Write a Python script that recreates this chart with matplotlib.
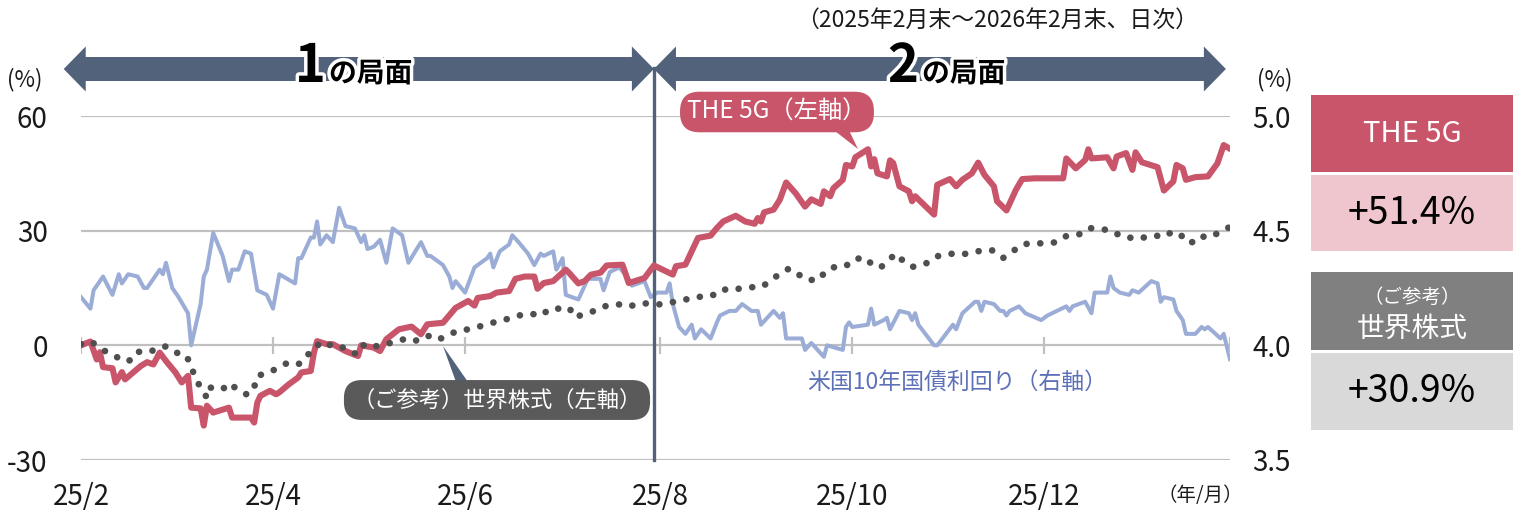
import matplotlib
matplotlib.use('Agg')
import matplotlib.pyplot as plt
import matplotlib.patheffects as pe
import matplotlib.transforms as mtrans
from matplotlib.patches import Rectangle, Polygon
import pandas as pd

plt.rcParams['font.family'] = ['Noto Sans CJK JP', 'DejaVu Sans']

# days since 2025-02-28 (end of Feb 2025)
start = pd.Timestamp('2025-02-28')
end = pd.Timestamp('2026-02-28')
phase_split = pd.Timestamp('2025-08-29')

tick_dates = ['2025-02-28', '2025-04-30', '2025-06-30', '2025-08-31', '2025-10-31', '2025-12-31']
tick_labels = ['25/2', '25/4', '25/6', '25/8', '25/10', '25/12']

# THE 5G cumulative return (%), left axis
the5g_days = [0, 3, 5, 6, 7, 10, 11, 13, 14, 19, 21, 23, 25, 27, 30, 32, 34, 35, 38, 39, 40, 42, 47, 48,
              54, 55, 56, 57, 60, 62, 63, 66, 69, 70, 73, 74, 75, 78, 80, 82, 84, 88, 89, 93, 95, 97,
              101, 105, 108, 110, 115, 119, 123, 125, 126, 130, 132, 136, 138, 141, 144, 145, 147, 150,
              154, 155, 158, 160, 162, 165, 167, 172, 174, 179, 182, 188, 189, 192, 194, 196, 200, 202,
              204, 208, 211, 214, 215, 216, 217, 220, 222, 224, 227, 230, 232, 235, 236, 238, 239, 242,
              243, 245, 246, 250, 251, 252, 253, 256, 257, 258, 260, 263, 264, 265, 271, 272, 276, 278,
              280, 283, 285, 287, 290, 291, 294, 297, 299, 303, 312, 313, 316, 319, 320, 321, 326, 328,
              329, 332, 334, 335, 337, 342, 344, 347, 348, 350, 351, 354, 358, 361, 363, 365]
the5g_vals = [0.0, 1.0, -3.7, -1.8, -5.7, -6.0, -9.7, -7.0, -8.9, -5.4, -4.4, -5.0, -1.9, -4.1, -7.1, -9.7,
              -8.0, -16.3, -16.5, -21.0, -15.8, -17.6, -16.3, -18.9, -18.9, -20.2, -15.0, -13.2, -11.9,
              -12.8, -12.3, -10.2, -8.4, -7.1, -6.7, -1.9, 1.1, 0.3, 0.3, -0.6, -1.5, -2.8, 0.0, -0.6,
              -1.5, 1.6, 4.2, 4.9, 2.9, 5.5, 5.9, 9.8, 11.6, 10.4, 12.4, 12.9, 13.8, 14.2, 17.4, 18.0,
              18.0, 14.8, 16.3, 16.8, 19.8, 19.0, 16.2, 16.8, 18.5, 19.0, 20.9, 21.1, 16.3, 17.6, 20.9,
              18.5, 20.7, 21.1, 24.6, 28.1, 28.7, 30.7, 32.4, 33.9, 32.4, 31.8, 33.3, 32.4, 34.8, 35.5,
              38.1, 42.6, 39.8, 36.3, 38.2, 37.0, 40.3, 39.0, 41.1, 43.3, 47.2, 46.8, 49.2, 51.3, 46.8,
              48.7, 45.0, 44.2, 48.4, 47.7, 41.6, 40.3, 37.7, 39.0, 34.2, 42.0, 43.5, 41.6, 43.3, 45.0,
              47.8, 44.6, 41.6, 37.7, 35.3, 40.7, 43.5, 43.7, 43.7, 48.9, 46.3, 48.5, 51.3, 48.9, 49.2,
              46.3, 49.4, 50.3, 45.9, 50.5, 47.9, 46.6, 40.5, 42.9, 47.2, 46.3, 43.3, 44.0, 44.2, 47.6,
              52.4, 51.4]

# world equities (reference), left axis
world_days = [0, 3, 6, 8, 11, 13, 16, 18, 22, 25, 27, 30, 33, 35, 36, 38, 40, 41, 42, 45, 47, 50, 53, 55,
              56, 60, 63, 65, 69, 71, 74, 76, 79, 82, 85, 88, 90, 93, 96, 99, 103, 106, 110, 113, 116,
              119, 123, 126, 129, 132, 136, 139, 143, 146, 149, 152, 155, 157, 160, 164, 167, 171, 174,
              177, 181, 184, 188, 192, 195, 199, 202, 205, 209, 212, 216, 219, 222, 225, 228, 231, 235,
              236, 239, 243, 245, 249, 251, 254, 256, 259, 261, 264, 266, 269, 272, 276, 279, 283, 287,
              290, 293, 296, 299, 303, 306, 310, 313, 317, 320, 323, 327, 329, 331, 334, 337, 341, 344,
              346, 349, 351, 355, 357, 360, 363, 365]
world_vals = [0.3, 1.1, -0.6, -1.7, -2.8, -4.1, -3.9, -1.7, -1.7, -0.4, -0.3, -1.9, -2.3, -5.0, -8.2,
              -11.0, -13.7, -11.0, -11.3, -11.5, -9.9, -11.7, -13.0, -11.0, -8.0, -7.0, -5.7, -4.8, -5.1,
              -2.9, -1.5, 0.9, 0.1, 0.1, -1.7, -2.3, 0.3, -0.4, 0.3, 0.7, 1.7, 1.1, 2.6, 1.4, 2.3, 3.6,
              4.2, 4.8, 5.5, 6.2, 7.0, 7.8, 8.3, 7.7, 9.6, 9.6, 9.9, 7.3, 8.3, 9.2, 10.4, 10.7, 10.1,
              10.9, 11.0, 10.7, 11.3, 12.0, 12.3, 13.3, 13.1, 14.8, 14.8, 15.2, 15.2, 16.8, 18.8, 20.1,
              18.5, 17.0, 17.4, 19.0, 20.4, 20.7, 22.4, 23.0, 21.4, 20.3, 22.0, 24.0, 22.2, 20.5, 20.9,
              21.6, 23.3, 24.0, 23.7, 24.2, 25.0, 24.8, 22.9, 24.6, 26.4, 26.8, 26.6, 27.0, 28.6, 29.0,
              30.7, 30.5, 30.1, 29.1, 29.1, 27.9, 28.1, 28.8, 28.3, 29.4, 29.4, 27.0, 27.0, 28.8, 28.8,
              30.4, 30.9]

# US 10y treasury yield (%), right axis
ust_days = [0, 3, 4, 6, 7, 10, 12, 13, 15, 18, 20, 21, 25, 26, 27, 29, 31, 34, 35, 38, 39, 40, 42, 45, 47,
            48, 50, 52, 54, 56, 59, 61, 63, 68, 69, 70, 73, 74, 75, 76, 78, 80, 82, 84, 87, 89, 90, 91,
            93, 95, 97, 99, 102, 104, 108, 110, 111, 115, 117, 118, 119, 122, 125, 129, 130, 131, 133,
            136, 137, 139, 142, 144, 146, 147, 150, 151, 153, 154, 158, 161, 165, 166, 168, 171, 174,
            175, 179, 181, 183, 186, 187, 188, 190, 192, 194, 195, 197, 200, 202, 203, 206, 208, 210,
            213, 215, 216, 218, 220, 222, 223, 224, 229, 230, 232, 236, 237, 242, 243, 244, 245, 250,
            251, 252, 255, 256, 257, 260, 263, 264, 265, 266, 271, 272, 277, 278, 280, 284, 285, 286,
            287, 290, 292, 293, 294, 295, 298, 300, 305, 307, 313, 314, 315, 319, 321, 322, 326, 327,
            328, 330, 333, 334, 336, 340, 342, 343, 344, 347, 348, 350, 351, 354, 356, 357, 358, 362,
            363, 365]
ust_vals = [4.21, 4.16, 4.24, 4.28, 4.30, 4.22, 4.31, 4.27, 4.31, 4.30, 4.25, 4.25, 4.33, 4.31, 4.36,
            4.25, 4.21, 4.14, 4.00, 4.18, 4.30, 4.33, 4.49, 4.39, 4.28, 4.33, 4.33, 4.41, 4.40, 4.24,
            4.22, 4.16, 4.31, 4.27, 4.38, 4.38, 4.47, 4.47, 4.54, 4.44, 4.48, 4.45, 4.60, 4.52, 4.51,
            4.45, 4.48, 4.42, 4.43, 4.46, 4.36, 4.51, 4.48, 4.36, 4.45, 4.39, 4.39, 4.35, 4.30, 4.25,
            4.28, 4.23, 4.34, 4.38, 4.40, 4.34, 4.41, 4.44, 4.48, 4.45, 4.40, 4.35, 4.40, 4.39, 4.41,
            4.33, 4.38, 4.22, 4.20, 4.29, 4.29, 4.24, 4.32, 4.34, 4.29, 4.26, 4.28, 4.21, 4.23, 4.23,
            4.27, 4.18, 4.08, 4.05, 4.09, 4.03, 4.07, 4.03, 4.10, 4.13, 4.15, 4.15, 4.18, 4.15, 4.15,
            4.09, 4.12, 4.15, 4.12, 4.14, 4.03, 4.03, 3.98, 4.01, 3.95, 4.00, 3.98, 4.08, 4.10, 4.08,
            4.09, 4.16, 4.09, 4.11, 4.12, 4.07, 4.15, 4.14, 4.11, 4.14, 4.09, 4.00, 4.00, 4.09, 4.07,
            4.14, 4.19, 4.19, 4.15, 4.19, 4.18, 4.15, 4.15, 4.13, 4.15, 4.17, 4.14, 4.11, 4.13, 4.17,
            4.15, 4.17, 4.19, 4.14, 4.23, 4.23, 4.30, 4.25, 4.23, 4.22, 4.24, 4.23, 4.28, 4.27, 4.19,
            4.21, 4.20, 4.15, 4.11, 4.05, 4.05, 4.08, 4.07, 4.08, 4.03, 4.05, 3.94]

left_ticks = [-30, 0, 30, 60]
right_ticks = [3.5, 4.0, 4.5, 5.0]
phase_labels = ['1', '2']
result_the5g = '+51.4%'
result_world = '+30.9%'

RED = '#c9556b'
PINK = '#f0c6ce'
BLUE = '#9badd6'
BLUE_TXT = '#5d70b8'
SLATE = '#52627a'
DOTS = '#4f4f4f'
GRID = '#c0c0c0'
TXT = '#1a1a1a'

W, H = 1517, 511
fig = plt.figure(figsize=(W / 100, H / 100), dpi=100)

def fx(px):
    return px / W

def fy(py):
    return 1 - py / H

ax = fig.add_axes([fx(81), fy(460), fx(1230) - fx(81), fy(116) - fy(460)])
ax2 = ax.twinx()
ax.set_zorder(ax2.get_zorder() + 1)
ax.patch.set_visible(False)

end_day = (end - start).days
split_day = (phase_split - start).days
tick_days = [(pd.Timestamp(d) - start).days for d in tick_dates]

# right axis: yield + gridlines
ax2.plot(ust_days, ust_vals, color=BLUE, lw=2.9, solid_joinstyle='round')
ax2.set_ylim(3.5, 5.0)
ax2.set_yticks(right_ticks)
ax2.set_yticklabels([f'{v:.1f}' for v in right_ticks])
ax2.yaxis.grid(True, color=GRID, lw=1.6)
ax2.tick_params(axis='y', length=0, pad=16, labelsize=20, labelcolor=TXT)

# left axis
ax.plot(the5g_days, the5g_vals, color=RED, lw=4.4, solid_joinstyle='round', solid_capstyle='round', zorder=4)
ax.plot(world_days, world_vals, color=DOTS, lw=4.8, linestyle=(0, (0.01, 2.05)),
        dash_capstyle='round', zorder=5)
ax.set_ylim(-30, 60)
ax.set_xlim(0, end_day)
ax.set_yticks(left_ticks)
ax.set_yticklabels([str(v) for v in left_ticks])
ax.set_xticks(tick_days)
ax.set_xticklabels(tick_labels)
ax.tick_params(axis='y', length=0, pad=24, labelsize=20, labelcolor=TXT)
ax.tick_params(axis='x', length=0, pad=16, labelsize=20, labelcolor=TXT)
ax.vlines(tick_days + [end_day], -2.2, 2.2, color=GRID, lw=1.6, zorder=1)
for a in (ax, ax2):
    for s in a.spines.values():
        s.set_visible(False)

# phase divider
ax.axvline(split_day, 0, (460 - 68) / (460 - 116), color=SLATE, lw=2.4, clip_on=False, zorder=2)

# phase arrows (x in days, y in figure)
bt = mtrans.blended_transform_factory(ax.transData, fig.transFigure)
yc, bh, hh, hl = fy(69), 12 / H, 22.5 / H, 7
for x0, x1 in [(-5.5, split_day), (split_day, end_day - 1.3)]:
    pts = [(x0, yc), (x0 + hl, yc + hh), (x0 + hl, yc + bh), (x1 - hl, yc + bh), (x1 - hl, yc + hh),
           (x1, yc), (x1 - hl, yc - hh), (x1 - hl, yc - bh), (x0 + hl, yc - bh), (x0 + hl, yc - hh)]
    fig.add_artist(Polygon(pts, closed=True, transform=bt, fc=SLATE, ec='none', clip_on=False))

glow = [pe.withStroke(linewidth=5, foreground='white')]
for lab, xr in zip(phase_labels, [326, 919]):
    fig.text(fx(xr), fy(82), lab, ha='right', va='baseline', fontsize=38, fontweight='bold',
             color='black', path_effects=glow)
    fig.text(fx(xr + 3), fy(82), 'の局面', ha='left', va='baseline', fontsize=20, fontweight='bold',
             color='black', path_effects=glow)

fig.text(fx(997), fy(20), '（2025年2月末～2026年2月末、日次）', ha='center', va='center', fontsize=16.5, color=TXT)
fig.text(fx(25), fy(80), '(%)', ha='center', va='center', fontsize=16, color=TXT)
fig.text(fx(1275), fy(80), '(%)', ha='center', va='center', fontsize=16, color=TXT)
fig.text(fx(1200), fy(495), '（年/月）', ha='center', va='center', fontsize=14, color=TXT)

# callouts
fig.add_artist(Polygon([(fx(826), fy(124)), (fx(846), fy(124)), (fx(858), fy(149))],
                       closed=True, transform=fig.transFigure, fc=RED, ec='none'))
fig.text(fx(777), fy(112), 'THE 5G（左軸）', ha='center', va='center', fontsize=17.5, color='white',
         bbox=dict(boxstyle='round,pad=0.3,rounding_size=0.8', fc=RED, ec='none'))

fig.add_artist(Polygon([(fx(456), fy(382)), (fx(468), fy(382)), (fx(443), fy(346))],
                       closed=True, transform=fig.transFigure, fc=SLATE, ec='none'))
fig.text(fx(497), fy(400), '（ご参考）世界株式（左軸）', ha='center', va='center', fontsize=16, color='white',
         bbox=dict(boxstyle='round,pad=0.38,rounding_size=0.8', fc='#5a5a5a', ec='none'))

fig.text(fx(957), fy(382), '米国10年国債利回り（右軸）', ha='center', va='center', fontsize=16.5, color=BLUE_TXT)

# result panel
bx0, bx1 = 1311, 1513
boxes = [(95, 172, RED), (175, 251, PINK), (272, 350, '#808080'), (353, 430, '#d9d9d9')]
for top, bot, col in boxes:
    fig.add_artist(Rectangle((fx(bx0), fy(bot)), fx(bx1) - fx(bx0), fy(top) - fy(bot),
                             transform=fig.transFigure, fc=col, ec='none'))
cx = fx((bx0 + bx1) / 2)
fig.text(cx, fy(134), 'THE 5G', ha='center', va='center', fontsize=21, color='white')
fig.text(cx, fy(213), result_the5g, ha='center', va='center', fontsize=27, color='black')
fig.text(cx, fy(297), '（ご参考）', ha='center', va='center', fontsize=14, color='white')
fig.text(cx, fy(329), '世界株式', ha='center', va='center', fontsize=20, color='white')
fig.text(cx, fy(392), result_world, ha='center', va='center', fontsize=27, color='black')

fig.savefig('out.png', dpi=100)
